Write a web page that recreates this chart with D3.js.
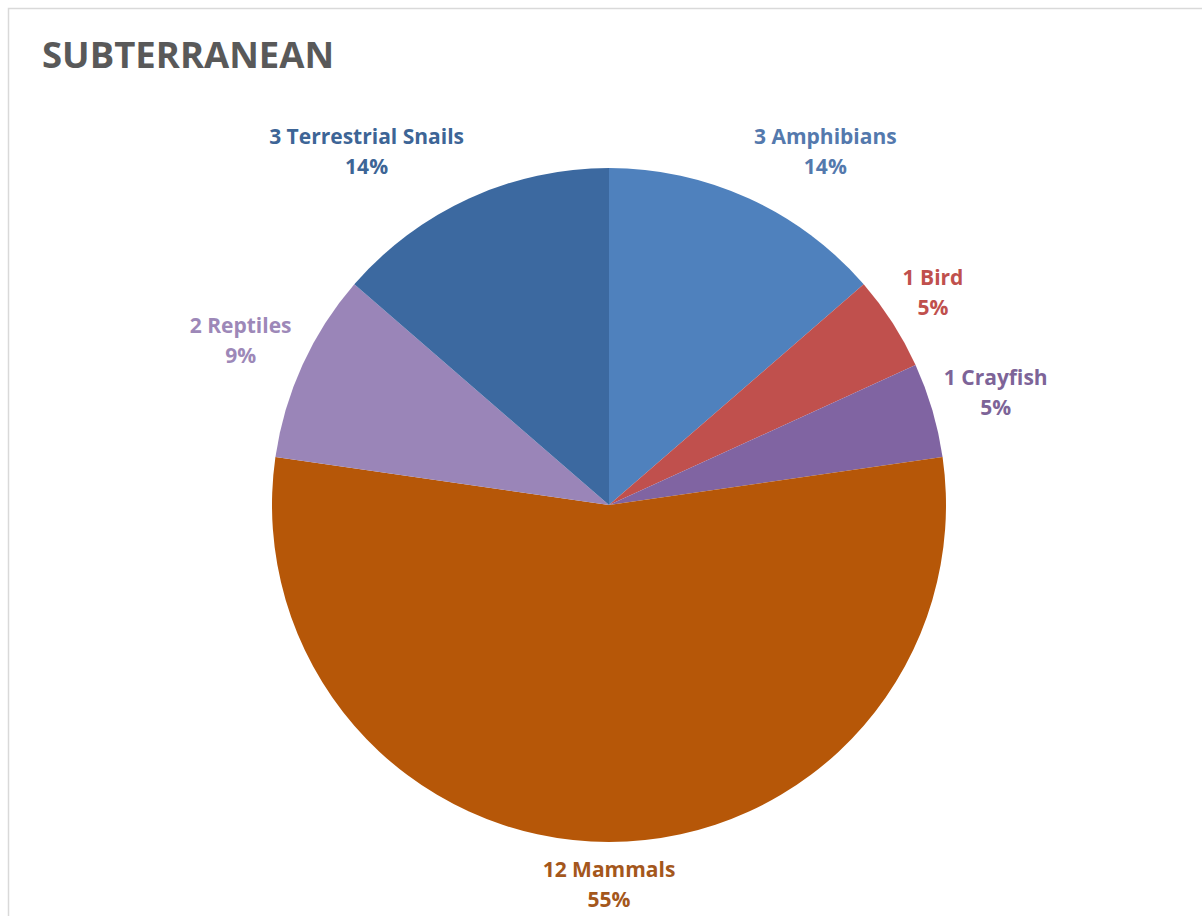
<!DOCTYPE html>
<html>
<head>
<meta charset="utf-8">
<script src="https://cdn.jsdelivr.net/npm/d3@7"></script>
<style>
  html, body { margin: 0; padding: 0; background: #fff; }
  svg { display: block; }
</style>
</head>
<body>
<svg id="chart" width="1202" height="916"></svg>
<script>
// chart data
const categories = ["Amphibians", "Bird", "Crayfish", "Mammals", "Reptiles", "Terrestrial Snails"];
const counts = [3, 1, 1, 12, 2, 3];
const sliceColors = ["#4f81bd", "#c0504d", "#8064a2", "#b65708", "#9a85b8", "#3c69a0"];
const labelColors = ["#5479ad", "#c0504d", "#7d6498", "#a4571c", "#9d88b8", "#3d6596"];

const width = 1202, height = 916;
const cx = 609, cy = 505, radius = 337;
const font = "'Open Sans', Lato, sans-serif";

const svg = d3.select("#chart");

// outer frame
svg.append("rect")
  .attr("x", 8.5).attr("y", 8.5)
  .attr("width", width + 10).attr("height", height + 10)
  .attr("fill", "none")
  .attr("stroke", "#d9d9d9")
  .attr("stroke-width", 1.5);

svg.append("text")
  .attr("x", 42).attr("y", 68)
  .attr("font-family", font)
  .attr("font-weight", "bold")
  .attr("font-size", 36.5)
  .attr("fill", "#595959")
  .text("SUBTERRANEAN");

const total = d3.sum(counts);
const rows = categories.map((c, i) => ({ name: c, value: counts[i], i }));

const pie = d3.pie().value(d => d.value).sort(null);
const arc = d3.arc().innerRadius(0).outerRadius(radius);
const arcs = pie(rows);

const g = svg.append("g").attr("transform", `translate(${cx},${cy})`);

g.selectAll("path.arc")
  .data(arcs)
  .enter()
  .append("path")
  .attr("class", "arc")
  .attr("d", arc)
  .attr("fill", d => sliceColors[d.data.i]);

// labels outside the pie
const fmt = d3.format(".0%");
const gap = 12;
const lab = g.selectAll("g.lab")
  .data(arcs)
  .enter()
  .append("g")
  .attr("class", "lab");

lab.each(function(d) {
  const el = d3.select(this);
  const color = labelColors[d.data.i];
  const t1 = el.append("text")
    .attr("text-anchor", "middle")
    .attr("font-family", font)
    .attr("font-weight", "bold")
    .attr("font-size", 21)
    .attr("fill", color)
    .text(`${d.data.value} ${d.data.name}`);
  el.append("text")
    .attr("text-anchor", "middle")
    .attr("font-family", font)
    .attr("font-weight", "bold")
    .attr("font-size", 21)
    .attr("fill", color)
    .attr("y", 30)
    .text(fmt(d.data.value / total));

  const w = t1.node().getComputedTextLength();
  const h = 70;
  const a = (d.startAngle + d.endAngle) / 2;
  const s = Math.sin(a), c = Math.cos(a);
  const px = s * (radius + gap) + Math.max(-1, Math.min(1, s * 3)) * w / 2;
  const py = -c * (radius + gap) - c * h / 2;
  el.attr("transform", `translate(${px},${py - 12})`);
});
</script>
</body>
</html>
